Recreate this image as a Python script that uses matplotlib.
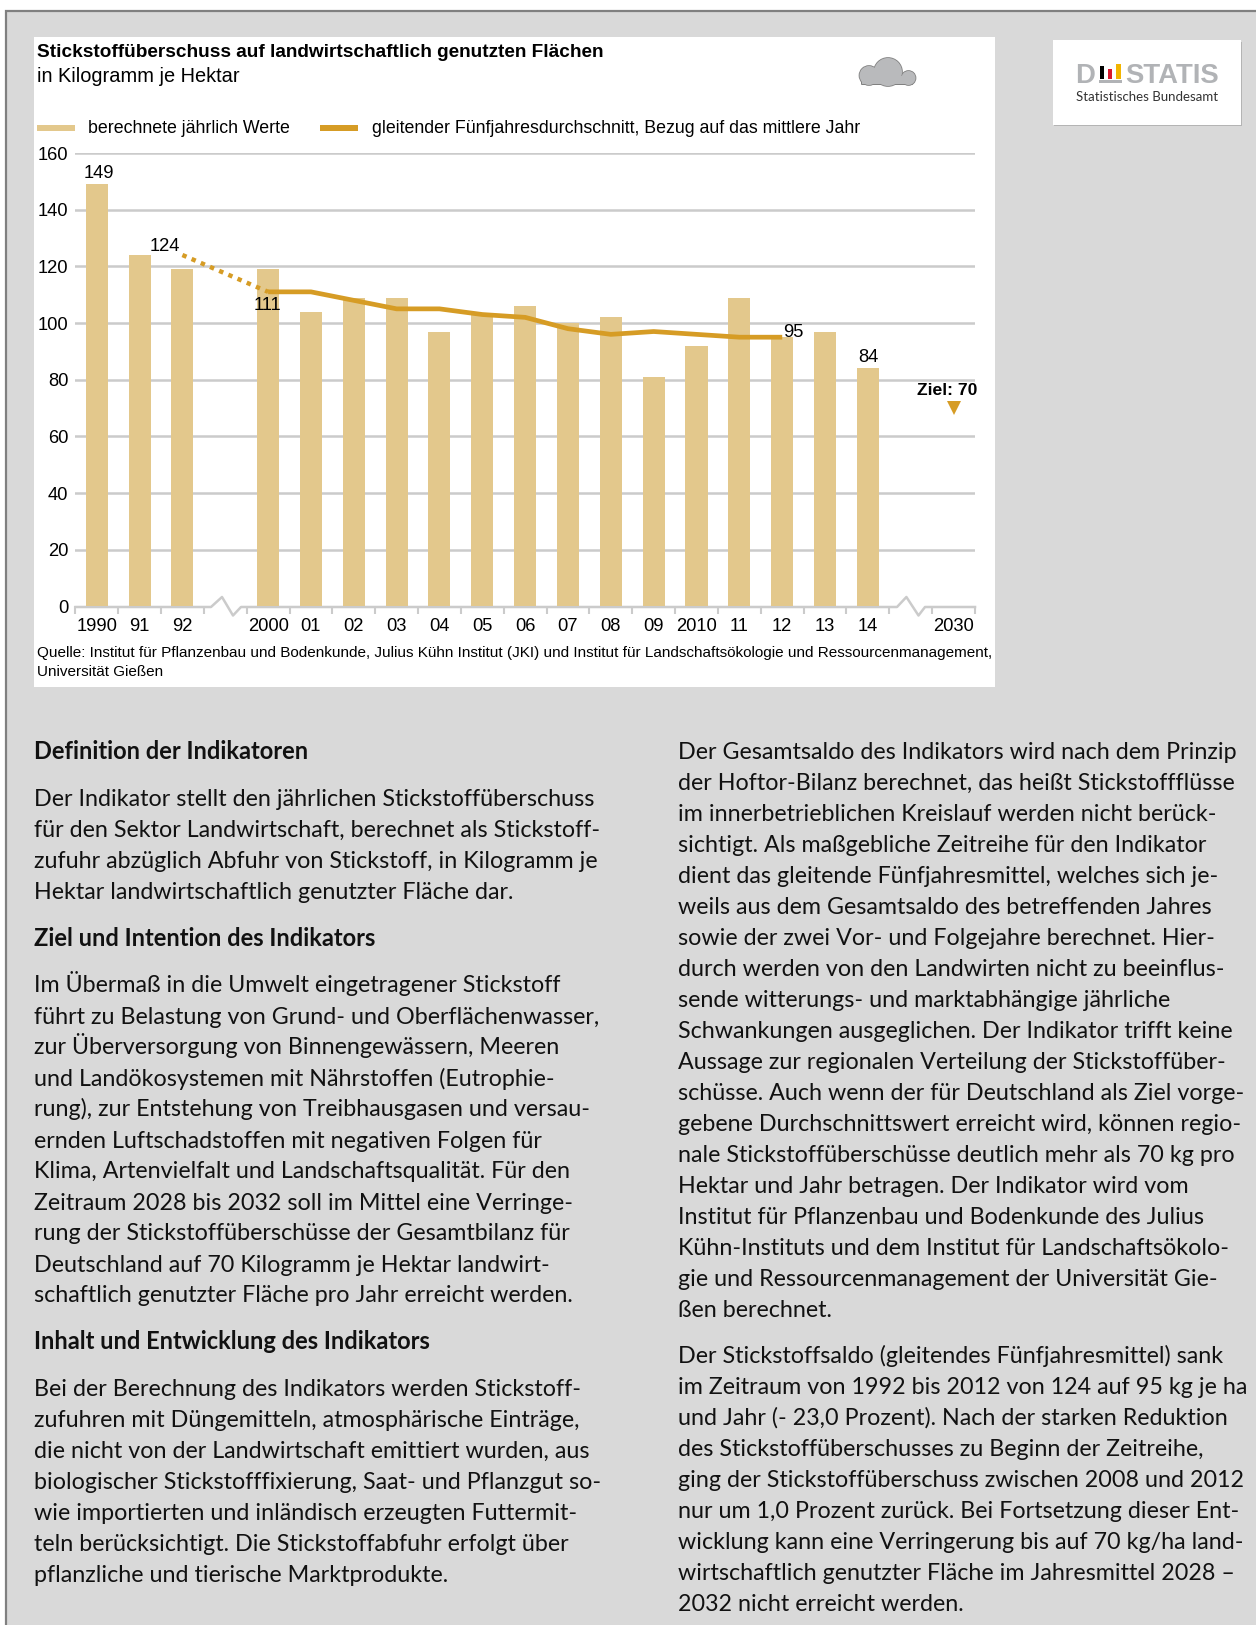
import matplotlib
matplotlib.use('Agg')
import matplotlib.pyplot as plt
from matplotlib.patches import Rectangle, Circle, FancyBboxPatch

W, H = 1256, 1625

# data
slots = list(range(21))
year_labels = ['1990', '91', '92', '', '2000', '01', '02', '03', '04', '05', '06', '07', '08', '09',
               '2010', '11', '12', '13', '14', '', '2030']
bar_pos = [0, 1, 2, 4, 5, 6, 7, 8, 9, 10, 11, 12, 13, 14, 15, 16, 17, 18]
bar_values = [149, 124, 119, 119, 104, 109, 109, 97, 103, 106, 100, 102, 81, 92, 109, 95, 97, 84]
line_pos = [4, 5, 6, 7, 8, 9, 10, 11, 12, 13, 14, 15, 16]
line_values = [111, 111, 108, 105, 105, 103, 102, 98, 96, 97, 96, 95, 95]
dotted_pos = [2, 4]
dotted_values = [124, 111]
target_pos = 20
target_value = 70
y_ticks = [0, 20, 40, 60, 80, 100, 120, 140, 160]

left_blocks = [
    (759, True, ['Definition der Indikatoren']),
    (806, False, ['Der Indikator stellt den jährlichen Stickstoffüberschuss',
                  'für den Sektor Landwirtschaft, berechnet als Stickstoff-',
                  'zufuhr abzüglich Abfuhr von Stickstoff, in Kilogramm je',
                  'Hektar landwirtschaftlich genutzter Fläche dar.']),
    (946, True, ['Ziel und Intention des Indikators']),
    (992.5, False, ['Im Übermaß in die Umwelt eingetragener Stickstoff',
                    'führt zu Belastung von Grund- und Oberflächenwasser,',
                    'zur Überversorgung von Binnengewässern, Meeren',
                    'und Landökosystemen mit Nährstoffen (Eutrophie-',
                    'rung), zur Entstehung von Treibhausgasen und versau-',
                    'ernden Luftschadstoffen mit negativen Folgen für',
                    'Klima, Artenvielfalt und Landschaftsqualität. Für den',
                    'Zeitraum 2028 bis 2032 soll im Mittel eine Verringe-',
                    'rung der Stickstoffüberschüsse der Gesamtbilanz für',
                    'Deutschland auf 70 Kilogramm je Hektar landwirt-',
                    'schaftlich genutzter Fläche pro Jahr erreicht werden.']),
    (1349, True, ['Inhalt und Entwicklung des Indikators']),
    (1396, False, ['Bei der Berechnung des Indikators werden Stickstoff-',
                   'zufuhren mit Düngemitteln, atmosphärische Einträge,',
                   'die nicht von der Landwirtschaft emittiert wurden, aus',
                   'biologischer Stickstofffixierung, Saat- und Pflanzgut so-',
                   'wie importierten und inländisch erzeugten Futtermit-',
                   'teln berücksichtigt. Die Stickstoffabfuhr erfolgt über',
                   'pflanzliche und tierische Marktprodukte.']),
]
right_blocks = [
    (759, False, ['Der Gesamtsaldo des Indikators wird nach dem Prinzip',
                  'der Hoftor-Bilanz berechnet, das heißt Stickstoffflüsse',
                  'im innerbetrieblichen Kreislauf werden nicht berück-',
                  'sichtigt. Als maßgebliche Zeitreihe für den Indikator',
                  'dient das gleitende Fünfjahresmittel, welches sich je-',
                  'weils aus dem Gesamtsaldo des betreffenden Jahres',
                  'sowie der zwei Vor- und Folgejahre berechnet. Hier-',
                  'durch werden von den Landwirten nicht zu beeinflus-',
                  'sende witterungs- und marktabhängige jährliche',
                  'Schwankungen ausgeglichen. Der Indikator trifft keine',
                  'Aussage zur regionalen Verteilung der Stickstoffüber-',
                  'schüsse. Auch wenn der für Deutschland als Ziel vorge-',
                  'gebene Durchschnittswert erreicht wird, können regio-',
                  'nale Stickstoffüberschüsse deutlich mehr als 70 kg pro',
                  'Hektar und Jahr betragen. Der Indikator wird vom',
                  'Institut für Pflanzenbau und Bodenkunde des Julius',
                  'Kühn-Instituts und dem Institut für Landschaftsökolo-',
                  'gie und Ressourcenmanagement der Universität Gie-',
                  'ßen berechnet.']),
    (1363, False, ['Der Stickstoffsaldo (gleitendes Fünfjahresmittel) sank',
                   'im Zeitraum von 1992 bis 2012 von 124 auf 95 kg je ha',
                   'und Jahr (- 23,0 Prozent). Nach der starken Reduktion',
                   'des Stickstoffüberschusses zu Beginn der Zeitreihe,',
                   'ging der Stickstoffüberschuss zwischen 2008 und 2012',
                   'nur um 1,0 Prozent zurück. Bei Fortsetzung dieser Ent-',
                   'wicklung kann eine Verringerung bis auf 70 kg/ha land-',
                   'wirtschaftlich genutzter Fläche im Jahresmittel 2028 –',
                   '2032 nicht erreicht werden.']),
]

BAR = '#e3c88c'
GOLD = '#d69c25'
GRID = '#cbcbcb'
PANEL = '#d9d9d9'
ARIAL = 'Liberation Sans'
BODY = 'Lato'

fig = plt.figure(figsize=(W / 100, H / 100), dpi=100, facecolor='white')

# page layer in pixel coordinates
page = fig.add_axes([0, 0, 1, 1], zorder=0)
page.set_xlim(0, W)
page.set_ylim(H, 0)
page.axis('off')

page.add_patch(Rectangle((6, 11), W, H, fc=PANEL, ec='none'))
page.plot([6, 6, W], [H, 11, 11], color='#808080', lw=1.6, solid_joinstyle='miter')
page.add_patch(Rectangle((34.2, 37), 961, 650, fc='white', ec='none'))

# logo box
page.add_patch(Rectangle((1054, 41.5), 188, 84.5, fc='#b4b4b4', ec='none'))
page.add_patch(Rectangle((1053, 40), 188, 84.5, fc='white', ec='none'))
page.text(1075.5, 83, 'D', fontsize=19.8, family=ARIAL, fontweight='bold', color='#b1b3b6', va='baseline')
page.text(1125, 83, 'STATIS', fontsize=19.8, family=ARIAL, fontweight='bold', color='#b1b3b6', va='baseline')
page.add_patch(Rectangle((1099.5, 66), 4, 12.7, fc='black', ec='none'))
page.add_patch(Rectangle((1107.7, 69), 4.6, 9.7, fc='#d8172c', ec='none'))
page.add_patch(Rectangle((1116, 64.3), 4.6, 14.4, fc='#f2b500', ec='none'))
page.add_patch(Rectangle((1098.5, 80), 23, 3.2, fc='#b1b3b6', ec='none'))
page.text(1076, 101, 'Statistisches Bundesamt', fontsize=9.55, family=BODY, color='#333333', va='baseline')

# cloud, edged shapes first and the fill over them
cloud = [(869, 75.5, 9.5), (888, 72, 14), (908.5, 78, 7)]
for cx, cy, r in cloud:
    page.add_patch(Circle((cx, cy), r, fc='#808080', ec='#808080', lw=1.2, zorder=3))
page.add_patch(FancyBboxPatch((862, 79), 50, 5, boxstyle='round,pad=1', fc='#808080', ec='none', zorder=3))
for cx, cy, r in cloud:
    page.add_patch(Circle((cx, cy), r, fc='#b9babc', ec='none', zorder=4))
page.add_patch(Rectangle((862, 76), 50, 7.8, fc='#b9babc', ec='none', zorder=4))

# chart titles and legend
page.text(37, 57, 'Stickstoffüberschuss auf landwirtschaftlich genutzten Flächen', fontsize=13.7,
          family=ARIAL, fontweight='bold', color='black', va='baseline')
page.text(37, 82.5, 'in Kilogramm je Hektar', fontsize=14.4, family=ARIAL, color='black', va='baseline')
page.add_patch(Rectangle((37, 124.5), 38, 6.5, fc=BAR, ec='none'))
page.text(88, 133, 'berechnete jährlich Werte', fontsize=12.8, family=ARIAL, color='black', va='baseline')
page.add_patch(Rectangle((319.5, 125), 38, 6, fc=GOLD, ec='none'))
page.text(371.5, 133, 'gleitender Fünfjahresdurchschnitt, Bezug auf das mittlere Jahr', fontsize=12.8,
          family=ARIAL, color='black', va='baseline')

page.text(37, 657, 'Quelle: Institut für Pflanzenbau und Bodenkunde, Julius Kühn Institut (JKI) und Institut für '
          'Landschaftsökologie und Ressourcenmanagement,', fontsize=10.94, family=ARIAL, color='black', va='baseline')
page.text(37, 676, 'Universität Gießen', fontsize=10.94, family=ARIAL, color='black', va='baseline')

# x axis line with the two breaks
page.plot([75.5, 211, 222, 233, 241, 889.6, 897, 906.4, 918.5, 925, 975],
          [607, 607, 597, 615.5, 607, 607, 607, 597, 615.5, 607, 607], color=GRID, lw=1.8, zorder=2)

# body text
for x, blocks in [(34.5, left_blocks), (677.8, right_blocks)]:
    for y0, bold, lines in blocks:
        for i, line in enumerate(lines):
            page.text(x, y0 + i * 31, line, fontsize=17 if bold else 16.75, family=BODY, color='#111111',
                      va='baseline', fontweight='bold' if bold else 'normal')

# chart
ax = fig.add_axes([75.3 / W, (H - 606.4) / H, 899.7 / W, 453.4 / H], zorder=1)
ax.patch.set_alpha(0)
ax.set_xlim(-0.5, 20.5)
ax.set_ylim(0, 160)
for s in ax.spines.values():
    s.set_visible(False)

for v in y_ticks[1:]:
    ax.axhline(v, color=GRID, lw=1.8, zorder=1)
ax.bar(bar_pos, bar_values, width=0.515, color=BAR, zorder=2)
ax.plot(line_pos, line_values, color=GOLD, lw=3.4, zorder=3, solid_capstyle='butt', solid_joinstyle='round')
ax.plot(dotted_pos, dotted_values, color=GOLD, lw=3.2, linestyle=(0, (1, 1.25)), zorder=3)
ax.plot([target_pos], [target_value], marker='v', color=GOLD, markersize=10.5, markeredgewidth=0, zorder=3)

ax.set_yticks(y_ticks)
ax.set_yticklabels([str(v) for v in y_ticks], fontsize=13.2, family=ARIAL)
ax.tick_params(axis='y', length=0, pad=5)
ax.set_xticks(slots)
ax.set_xticklabels(year_labels, fontsize=13.2, family=ARIAL)
ax.tick_params(axis='x', which='major', length=0, pad=8)
ax.set_xticks([s - 0.5 for s in slots] + [20.5], minor=True)
ax.tick_params(axis='x', which='minor', length=6, width=1.5, color=GRID)


def label(x, y, txt, dx, dy, **kw):
    ax.annotate(txt, (x, y), xytext=(dx, dy), textcoords='offset pixels', ha='center', va='baseline',
                fontsize=13.2, family=ARIAL, color='black', annotation_clip=False, **kw)


label(0, bar_values[0], '149', 2, 6)
label(dotted_pos[0], dotted_values[0], '124', -18, 4)
label(line_pos[0], line_values[0], '111', -1, -18)
label(line_pos[-1], line_values[-1], '95', 11, 0)
label(bar_pos[-1], bar_values[-1], '84', 0, 6)
ax.annotate('Ziel: 70', (target_pos, target_value), xytext=(24, 13), textcoords='offset pixels', ha='right',
            va='baseline', fontsize=12.6, family=ARIAL, fontweight='bold', color='black', annotation_clip=False)

fig.savefig('out.png', dpi=100)
